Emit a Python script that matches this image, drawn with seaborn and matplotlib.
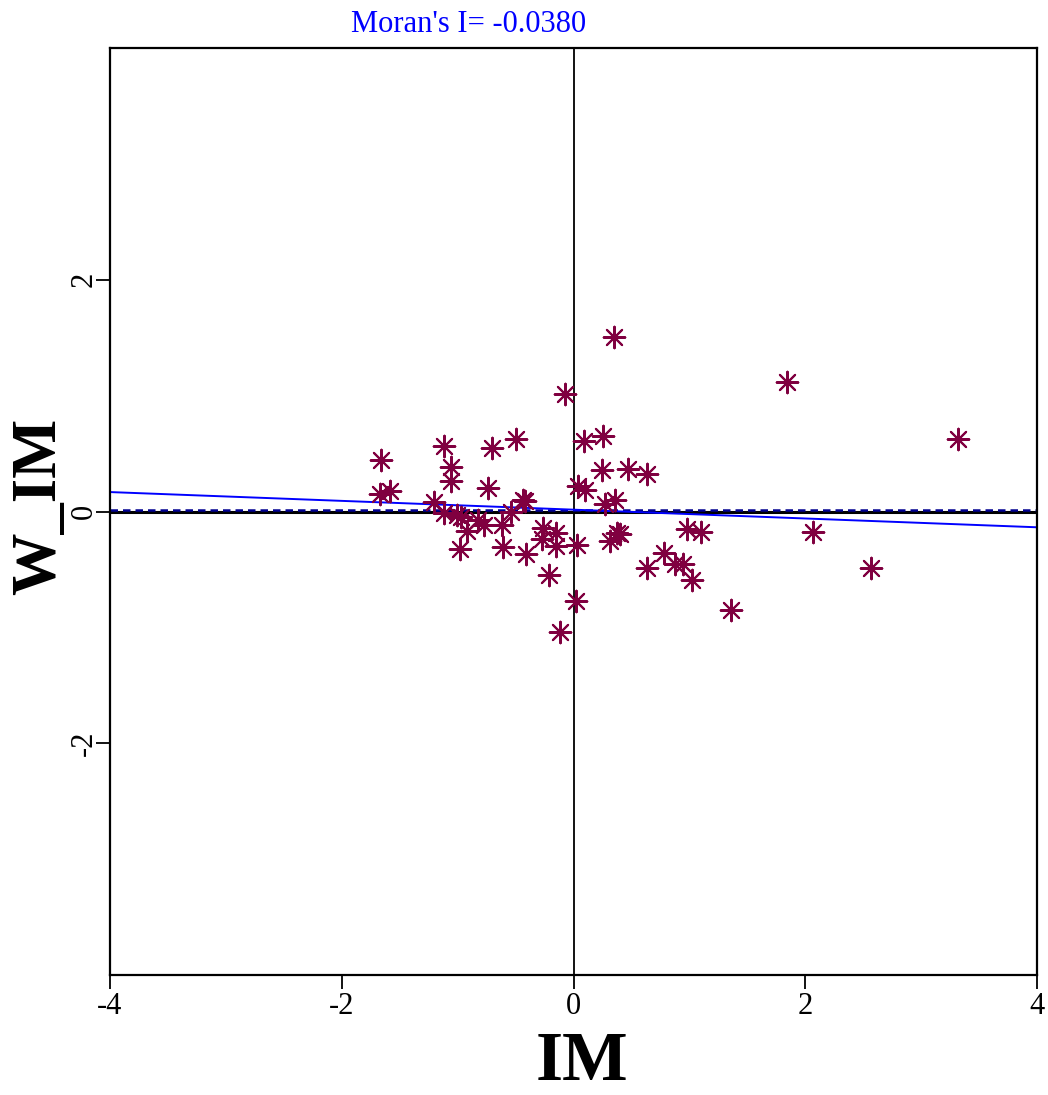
import numpy as np
import matplotlib
matplotlib.use("Agg")
import matplotlib.pyplot as plt
import seaborn as sns

# standardized IM values and their spatial lag
im = [-1.66, -1.115, -0.706, -0.496, -1.054, -1.054, -1.67, -1.58, -0.738, -1.204,
      -0.433, -0.419, -1.115, -1.008, -0.973, -0.821, -0.77, -0.614, -0.542, -0.919,
      -0.977, -0.606, -0.407, -0.26, -0.274, -0.151, -0.151, -0.209, 0.028, 0.024,
      -0.116, 0.091, 0.04, 0.099, 0.243, 0.349, -0.076, 0.257, 0.468, 0.634,
      0.272, 0.358, 0.315, 0.372, 0.40, 0.632, 0.784, 0.88, 0.947, 1.025,
      0.977, 1.103, 1.356, 1.84, 3.32, 2.064, 2.564]
w_im = [0.445, 0.565, 0.55, 0.628, 0.385, 0.264, 0.155, 0.175, 0.20, 0.083,
        0.103, 0.089, -0.011, -0.034, -0.046, -0.069, -0.12, -0.12, -0.006, -0.169,
        -0.321, -0.307, -0.364, -0.14, -0.235, -0.183, -0.298, -0.548, -0.292, -0.771,
        -1.038, 0.613, 0.224, 0.183, 0.355, 1.508, 1.015, 0.654, 0.37, 0.324,
        0.069, 0.103, -0.255, -0.183, -0.198, -0.484, -0.355, -0.456, -0.456, -0.594,
        -0.155, -0.175, -0.849, 1.121, 0.625, -0.178, -0.49]

morans_i = -0.0380
intercept = 0.016
x_ticks = [-4, -2, 0, 2, 4]
y_ticks = [-2, 0, 2]

sns.set_style("white")
plt.rcParams['font.family'] = ['Liberation Serif', 'DejaVu Serif']

fig = plt.figure(figsize=(10.48, 10.95), dpi=100)
ax = fig.add_axes([0.105, 0.1096, 0.8845, 0.8465])

# reference lines through the origin
ax.axvline(0, color='black', lw=1.3, zorder=1)
ax.axhline(0, color='black', lw=2.2, zorder=1)
ax.axhline(0.012, color='#000090', lw=1.8, ls=(0, (3, 2)), zorder=2)

# regression line, slope = Moran's I
xl = np.array([-4, 4])
ax.plot(xl, intercept + morans_i * xl, color='#0000ff', lw=1.4, zorder=2)

maroon = '#800040'
sns.scatterplot(x=im, y=w_im, marker=(8, 2, 0), s=240, color=maroon,
                linewidth=1.5, ax=ax, zorder=3)
sns.scatterplot(x=im, y=w_im, marker='o', s=14, color=maroon,
                linewidth=0, ax=ax, zorder=4)

ax.set_xlim(-4, 4)
ax.set_ylim(-4, 4)
ax.set_xticks(x_ticks)
ax.set_yticks(y_ticks)
ax.set_xticklabels([str(t) for t in x_ticks], fontsize=22, color='black')
ax.set_yticklabels([str(t) for t in y_ticks], fontsize=22, rotation=90,
                   va='center', color='black')
ax.tick_params(direction='out', length=10, width=1.3, color='black',
               bottom=True, left=True)
ax.tick_params(axis='x', pad=2)
ax.tick_params(axis='y', pad=-2)
for sp in ax.spines.values():
    sp.set_color('black')
    sp.set_linewidth(1.6)

ax.set_xlabel('IM', fontsize=50, fontweight='bold', color='black')
ax.set_ylabel('W_IM', fontsize=45, fontweight='bold', color='black')
ax.xaxis.set_label_coords(0.509, -0.06)
ax.yaxis.set_label_coords(-0.044, 0.505)

fig.text(0.447, 0.978, "Moran's I= -0.0380", color='#0000ff', fontsize=22,
         ha='center', va='center')

fig.savefig('out.png', dpi=100, facecolor='white')
